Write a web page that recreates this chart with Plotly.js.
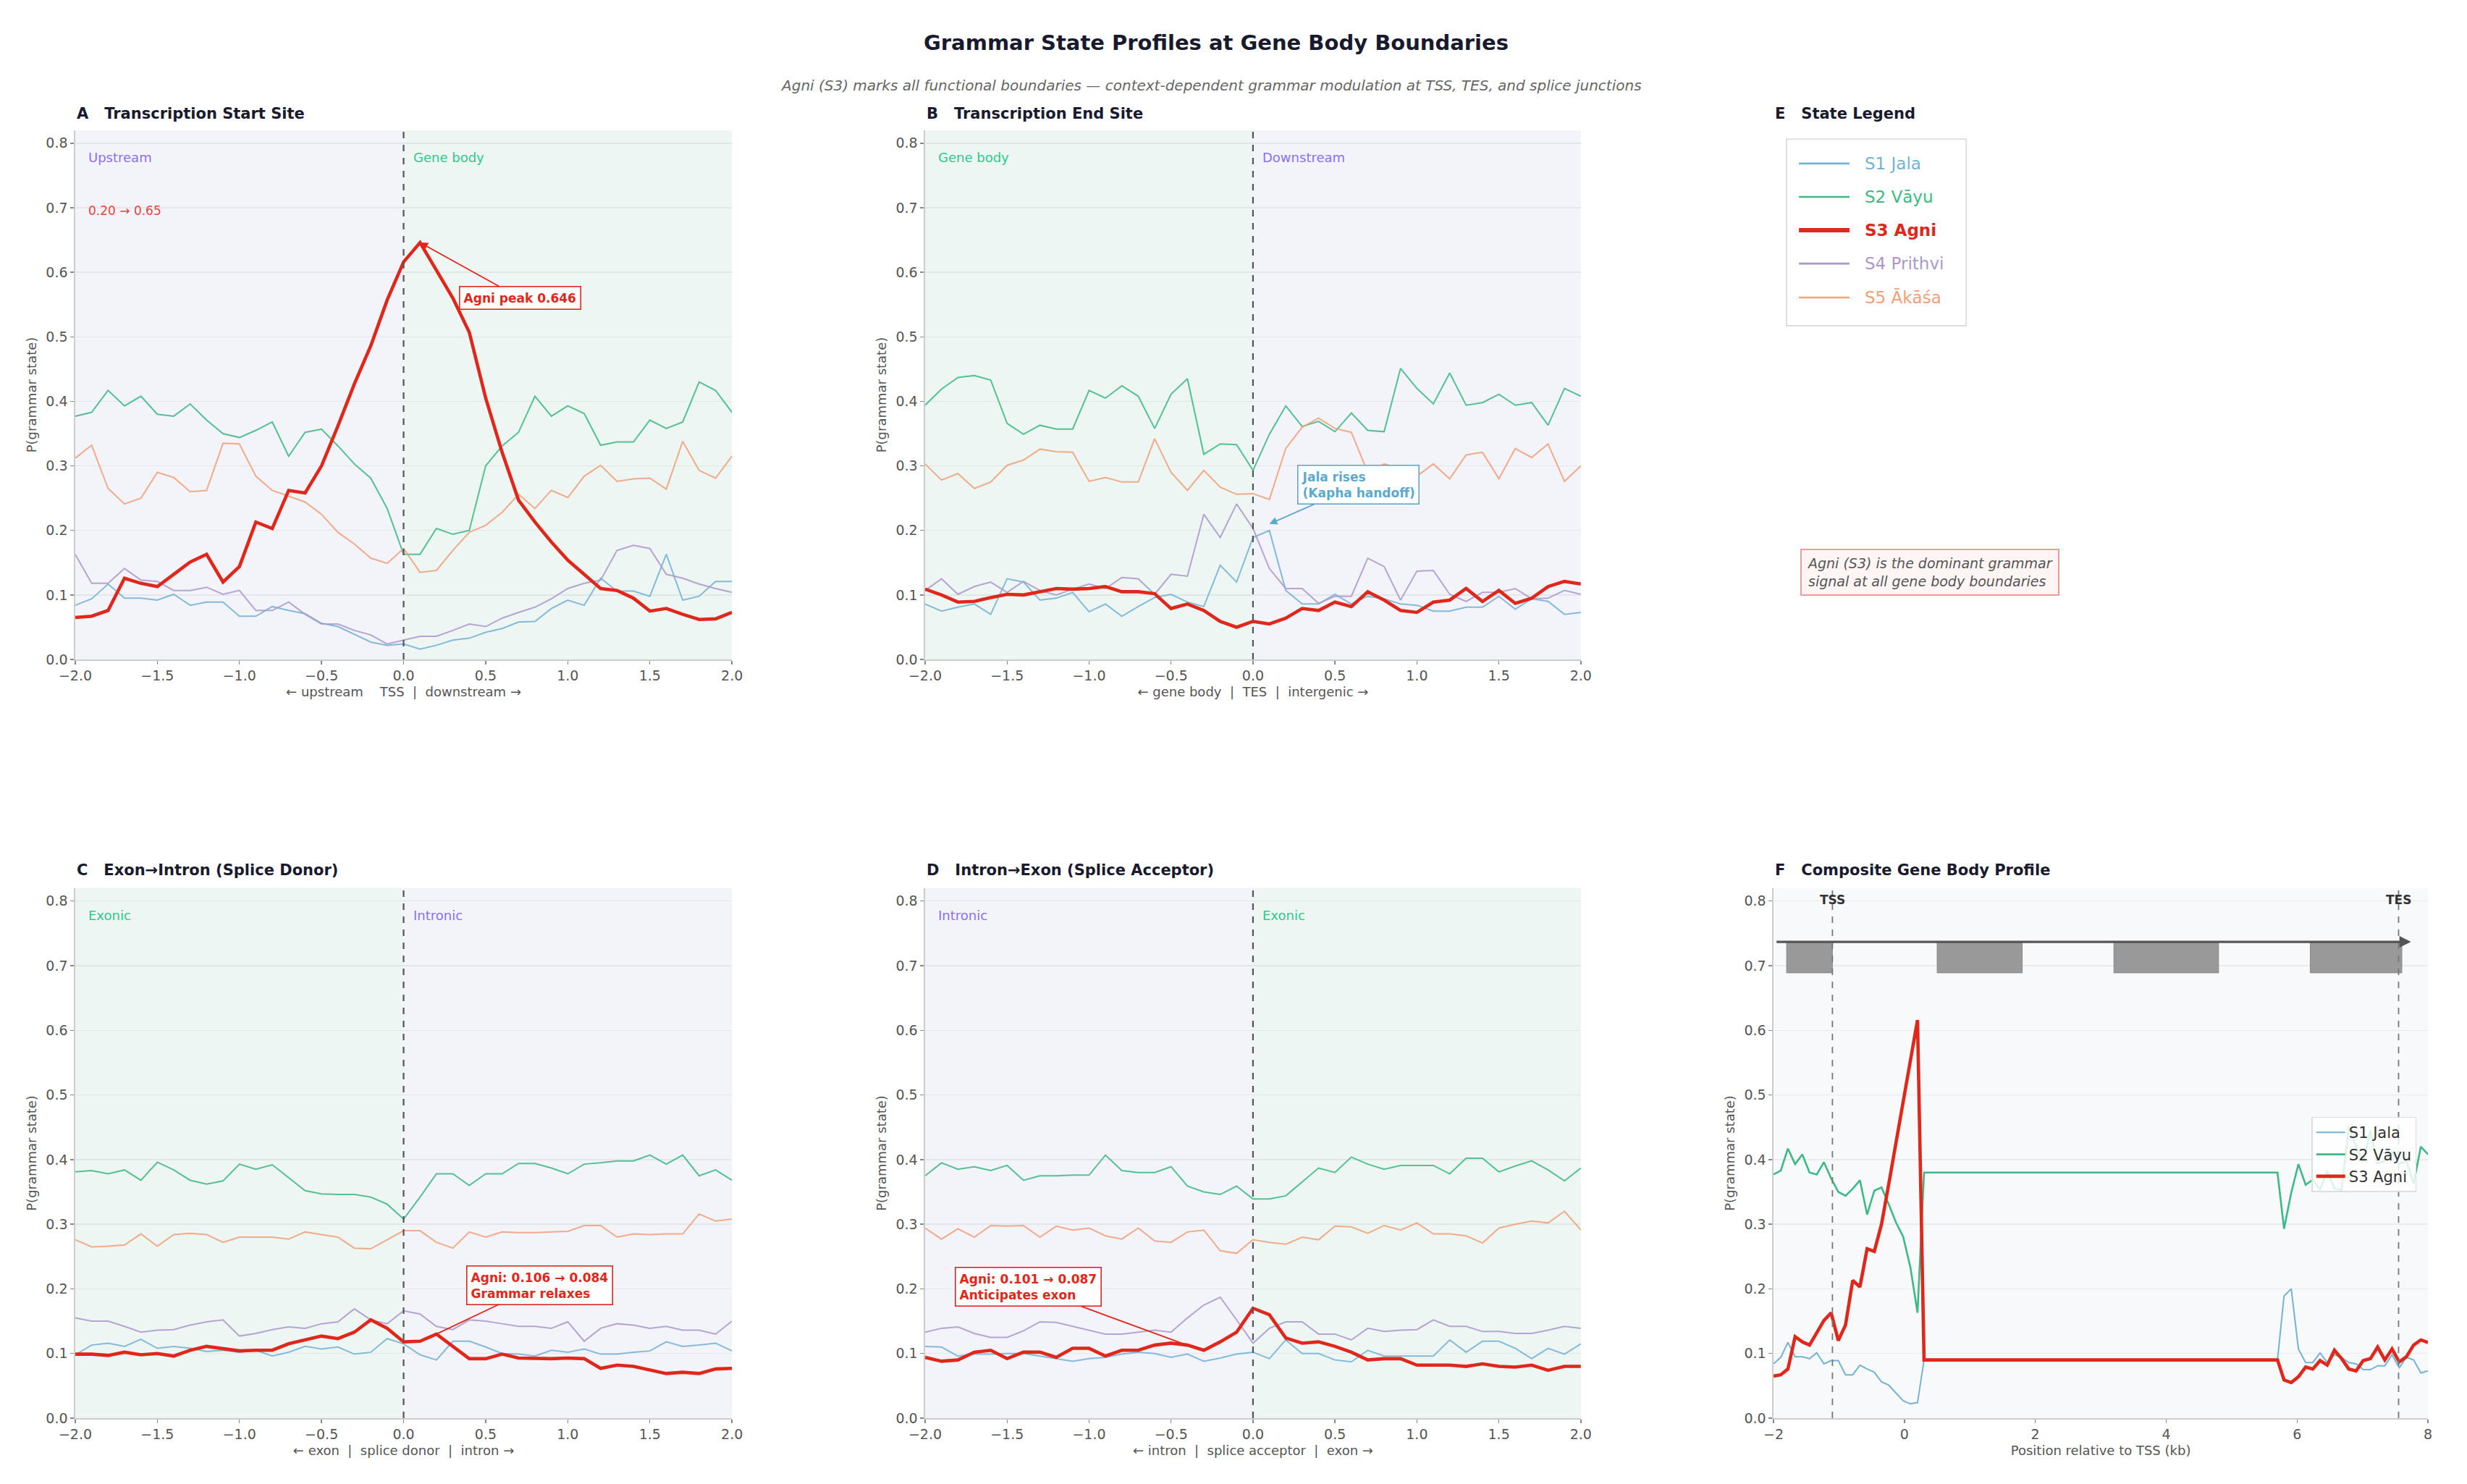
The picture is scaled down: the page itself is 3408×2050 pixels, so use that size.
<!DOCTYPE html>
<html><head><meta charset="utf-8">
<script src="https://cdn.plot.ly/plotly-3.0.1.min.js"></script>
<style>html,body{margin:0;padding:0;background:#fff}</style>
</head><body><div id="chart" style="width:3408px;height:2050px"></div>
<script>
// ---------- DATA ----------
const positions = [-2.0,-1.9,-1.8,-1.7,-1.6,-1.5,-1.4,-1.3,-1.2,-1.1,-1.0,-0.9,-0.8,-0.7,-0.6,-0.5,-0.4,-0.3,-0.2,-0.1,0.0,0.1,0.2,0.3,0.4,0.5,0.6,0.7,0.8,0.9,1.0,1.1,1.2,1.3,1.4,1.5,1.6,1.7,1.8,1.9,2.0];
const stateNames = ["S1 Jala","S2 Vāyu","S3 Agni","S4 Prithvi","S5 Ākāśa"];
const stateColors = ["#74b3d4","#3dba84","#e0271b","#ad98cc","#f0a07a"];

// A: TSS
const tssJala    = [0.084,0.094,0.117,0.095,0.095,0.092,0.101,0.084,0.089,0.089,0.067,0.067,0.082,0.076,0.071,0.056,0.051,0.039,0.027,0.022,0.024,0.016,0.022,0.030,0.033,0.042,0.048,0.058,0.059,0.079,0.092,0.084,0.126,0.106,0.106,0.098,0.163,0.092,0.098,0.121,0.121];
const tssVayu    = [0.377,0.383,0.417,0.393,0.408,0.380,0.377,0.396,0.371,0.350,0.344,0.355,0.368,0.315,0.352,0.357,0.331,0.303,0.281,0.234,0.163,0.163,0.203,0.194,0.200,0.300,0.331,0.352,0.408,0.377,0.393,0.381,0.332,0.337,0.337,0.371,0.358,0.368,0.430,0.417,0.383];
const tssAgni    = [0.065,0.067,0.076,0.126,0.118,0.113,0.132,0.151,0.163,0.120,0.144,0.213,0.203,0.262,0.258,0.300,0.362,0.427,0.486,0.557,0.616,0.646,0.603,0.560,0.507,0.405,0.321,0.247,0.213,0.182,0.154,0.132,0.110,0.107,0.095,0.075,0.079,0.070,0.062,0.063,0.073];
const tssPrithvi = [0.163,0.118,0.118,0.141,0.123,0.121,0.107,0.107,0.112,0.101,0.107,0.076,0.076,0.089,0.070,0.055,0.055,0.045,0.038,0.024,0.030,0.036,0.036,0.045,0.055,0.051,0.064,0.073,0.081,0.094,0.110,0.118,0.123,0.169,0.177,0.172,0.132,0.126,0.117,0.110,0.104];
const tssAkasa   = [0.312,0.332,0.265,0.241,0.250,0.290,0.282,0.260,0.262,0.335,0.334,0.284,0.262,0.253,0.244,0.225,0.197,0.179,0.157,0.149,0.172,0.135,0.138,0.169,0.197,0.208,0.228,0.256,0.234,0.262,0.251,0.284,0.301,0.276,0.280,0.281,0.264,0.338,0.293,0.281,0.315];

// B: TES
const tesJala    = [0.086,0.075,0.081,0.086,0.070,0.125,0.120,0.092,0.095,0.104,0.074,0.086,0.067,0.082,0.096,0.101,0.089,0.082,0.146,0.120,0.189,0.200,0.107,0.086,0.086,0.101,0.086,0.098,0.094,0.086,0.084,0.075,0.075,0.081,0.081,0.098,0.078,0.094,0.090,0.070,0.073];
const tesVayu    = [0.394,0.419,0.437,0.440,0.433,0.366,0.349,0.363,0.357,0.357,0.417,0.405,0.424,0.408,0.358,0.411,0.435,0.318,0.334,0.333,0.293,0.349,0.393,0.361,0.369,0.353,0.382,0.355,0.353,0.451,0.420,0.396,0.444,0.394,0.398,0.411,0.394,0.398,0.363,0.420,0.408];
const tesAgni    = [0.109,0.100,0.089,0.090,0.096,0.101,0.100,0.105,0.110,0.109,0.110,0.113,0.105,0.105,0.102,0.079,0.086,0.076,0.059,0.050,0.059,0.055,0.064,0.079,0.076,0.089,0.082,0.105,0.092,0.076,0.073,0.089,0.092,0.110,0.090,0.107,0.087,0.095,0.113,0.121,0.117];
const tesPrithvi = [0.107,0.125,0.101,0.113,0.120,0.104,0.121,0.107,0.100,0.109,0.117,0.110,0.127,0.125,0.101,0.132,0.129,0.225,0.189,0.241,0.203,0.141,0.110,0.110,0.087,0.098,0.098,0.157,0.144,0.092,0.137,0.138,0.101,0.090,0.104,0.104,0.110,0.094,0.095,0.107,0.101];
const tesAkasa   = [0.303,0.278,0.288,0.265,0.275,0.301,0.309,0.326,0.322,0.321,0.276,0.282,0.275,0.275,0.342,0.290,0.262,0.293,0.267,0.256,0.257,0.248,0.327,0.360,0.374,0.358,0.352,0.290,0.303,0.296,0.284,0.303,0.280,0.317,0.321,0.280,0.327,0.313,0.334,0.276,0.300];

// C: splice donor
const donorJala    = [0.098,0.113,0.116,0.111,0.122,0.108,0.111,0.108,0.103,0.105,0.102,0.105,0.096,0.102,0.111,0.107,0.110,0.099,0.102,0.123,0.115,0.098,0.090,0.119,0.119,0.110,0.100,0.099,0.096,0.105,0.102,0.107,0.099,0.099,0.102,0.104,0.118,0.111,0.113,0.116,0.104];
const donorVayu    = [0.381,0.383,0.378,0.384,0.368,0.396,0.384,0.368,0.362,0.367,0.393,0.385,0.392,0.372,0.352,0.347,0.346,0.346,0.342,0.331,0.308,0.342,0.378,0.378,0.360,0.378,0.378,0.394,0.394,0.387,0.378,0.393,0.395,0.398,0.398,0.407,0.393,0.407,0.375,0.384,0.368];
const donorAgni    = [0.099,0.099,0.097,0.102,0.098,0.100,0.096,0.105,0.111,0.107,0.104,0.105,0.105,0.115,0.121,0.127,0.123,0.133,0.152,0.139,0.118,0.119,0.130,0.111,0.092,0.092,0.099,0.093,0.092,0.092,0.093,0.092,0.077,0.082,0.080,0.074,0.069,0.071,0.069,0.076,0.077];
const donorPrithvi = [0.155,0.150,0.150,0.142,0.133,0.136,0.137,0.144,0.149,0.152,0.127,0.131,0.137,0.141,0.139,0.146,0.149,0.169,0.152,0.146,0.166,0.161,0.142,0.137,0.152,0.150,0.146,0.142,0.142,0.139,0.149,0.119,0.139,0.146,0.144,0.139,0.142,0.136,0.136,0.130,0.150];
const donorAkasa   = [0.276,0.265,0.266,0.268,0.285,0.266,0.284,0.286,0.284,0.272,0.280,0.280,0.280,0.277,0.288,0.284,0.280,0.263,0.262,0.276,0.290,0.290,0.272,0.263,0.288,0.280,0.288,0.287,0.287,0.288,0.289,0.298,0.298,0.280,0.285,0.284,0.285,0.285,0.316,0.305,0.308];

// D: splice acceptor
const accJala    = [0.111,0.110,0.096,0.099,0.099,0.100,0.100,0.096,0.092,0.088,0.092,0.094,0.099,0.102,0.100,0.094,0.099,0.088,0.093,0.099,0.102,0.092,0.121,0.100,0.100,0.090,0.087,0.105,0.096,0.096,0.096,0.096,0.121,0.102,0.119,0.119,0.108,0.092,0.108,0.099,0.115];
const accVayu    = [0.375,0.395,0.385,0.389,0.383,0.391,0.368,0.375,0.375,0.376,0.376,0.407,0.383,0.380,0.380,0.389,0.359,0.350,0.346,0.359,0.339,0.339,0.344,0.365,0.387,0.380,0.404,0.393,0.385,0.391,0.391,0.391,0.378,0.402,0.402,0.381,0.390,0.398,0.384,0.367,0.387];
const accAgni    = [0.094,0.088,0.090,0.102,0.105,0.092,0.102,0.102,0.094,0.108,0.108,0.096,0.105,0.105,0.113,0.116,0.113,0.105,0.118,0.133,0.170,0.160,0.124,0.116,0.118,0.111,0.102,0.090,0.092,0.092,0.082,0.082,0.082,0.080,0.084,0.080,0.079,0.082,0.074,0.080,0.080];
const accPrithvi = [0.133,0.139,0.141,0.131,0.125,0.125,0.135,0.149,0.148,0.142,0.136,0.130,0.130,0.133,0.136,0.133,0.155,0.175,0.187,0.152,0.116,0.139,0.149,0.149,0.130,0.130,0.121,0.139,0.134,0.136,0.137,0.152,0.142,0.142,0.134,0.134,0.131,0.131,0.136,0.142,0.139];
const accAkasa   = [0.294,0.277,0.293,0.280,0.298,0.297,0.298,0.280,0.297,0.291,0.294,0.282,0.277,0.294,0.274,0.272,0.288,0.291,0.259,0.255,0.276,0.272,0.269,0.280,0.276,0.297,0.296,0.286,0.298,0.291,0.302,0.285,0.285,0.282,0.271,0.294,0.300,0.305,0.302,0.320,0.291];

// F: composite gene body profile
const compX    = [-2.0,-1.89,-1.78,-1.67,-1.56,-1.45,-1.34,-1.23,-1.12,-1.01,-0.9,-0.79,-0.68,-0.57,-0.46,-0.35,-0.24,-0.13,-0.02,0.09,0.2,0.3,5.7,5.8,5.91,6.02,6.13,6.24,6.35,6.46,6.57,6.68,6.79,6.9,7.01,7.12,7.23,7.34,7.45,7.56,7.67,7.78,7.89,8.0];
const compJala = [0.084,0.094,0.117,0.095,0.095,0.092,0.101,0.084,0.089,0.089,0.067,0.067,0.082,0.076,0.071,0.056,0.051,0.039,0.027,0.022,0.024,0.090,0.090,0.189,0.200,0.107,0.086,0.086,0.101,0.086,0.098,0.094,0.086,0.084,0.075,0.075,0.081,0.081,0.098,0.078,0.094,0.090,0.070,0.073];
const compVayu = [0.377,0.383,0.417,0.393,0.408,0.380,0.377,0.396,0.371,0.350,0.344,0.355,0.368,0.315,0.352,0.357,0.331,0.303,0.281,0.234,0.163,0.380,0.380,0.293,0.349,0.393,0.361,0.369,0.353,0.382,0.355,0.353,0.451,0.420,0.396,0.444,0.394,0.398,0.411,0.394,0.398,0.363,0.420,0.408];
const compAgni = [0.065,0.067,0.076,0.126,0.118,0.113,0.132,0.151,0.163,0.120,0.144,0.213,0.203,0.262,0.258,0.300,0.362,0.427,0.486,0.557,0.616,0.090,0.090,0.059,0.055,0.064,0.079,0.076,0.089,0.082,0.105,0.092,0.076,0.073,0.089,0.092,0.110,0.090,0.107,0.087,0.095,0.113,0.121,0.117];
const compMarks = ["TSS","TES"];
const compMarkX = [-1.1, 7.55];
const exonStart = [-1.8, 0.5, 3.2, 6.2];
const exonEnd   = [-1.1, 1.8, 4.8, 7.6];

// ---------- STYLE ----------
const FONT = "DejaVu Sans, Liberation Sans, sans-serif";
const PURPLE_BG = "#f3f3fa", GREEN_BG = "#eef6f3";
const PURPLE_TX = "#8c70f2", GREEN_TX = "#2ec98c";
const AGNI = stateColors[2], JALA = stateColors[0];

const panels = [
  {ax:"", sets:[tssJala,tssVayu,tssAgni,tssPrithvi,tssAkasa], regions:[["Upstream",PURPLE_BG,PURPLE_TX],["Gene body",GREEN_BG,GREEN_TX]],
   title:"A   Transcription Start Site", xtitle:"← upstream    TSS  |  downstream →"},
  {ax:"2", sets:[tesJala,tesVayu,tesAgni,tesPrithvi,tesAkasa], regions:[["Gene body",GREEN_BG,GREEN_TX],["Downstream",PURPLE_BG,PURPLE_TX]],
   title:"B   Transcription End Site", xtitle:"← gene body  |  TES  |  intergenic →"},
  {ax:"3", sets:[donorJala,donorVayu,donorAgni,donorPrithvi,donorAkasa], regions:[["Exonic",GREEN_BG,GREEN_TX],["Intronic",PURPLE_BG,PURPLE_TX]],
   title:"C   Exon→Intron (Splice Donor)", xtitle:"← exon  |  splice donor  |  intron →"},
  {ax:"4", sets:[accJala,accVayu,accAgni,accPrithvi,accAkasa], regions:[["Intronic",PURPLE_BG,PURPLE_TX],["Exonic",GREEN_BG,GREEN_TX]],
   title:"D   Intron→Exon (Splice Acceptor)", xtitle:"← intron  |  splice acceptor  |  exon →"}
];

const colX = [[0.0305,0.2967],[0.375,0.6408],[0.7189,0.9842]];
const rowY = [[0.5556,0.9122],[0.0444,0.4015]];
const domains = [[colX[0],rowY[0]],[colX[1],rowY[0]],[colX[0],rowY[1]],[colX[1],rowY[1]]];

const traces = [], shapes = [], annotations = [];
const drawOrder = [0,1,3,4,2];

panels.forEach((p, pi) => {
  const xa = "x"+p.ax, ya = "y"+p.ax;
  drawOrder.forEach(si => {
    traces.push({
      type:"scatter", mode:"lines", x:positions, y:p.sets[si], xaxis:xa, yaxis:ya,
      name:stateNames[si], showlegend:false, hoverinfo:"skip",
      opacity: si===2 ? 1 : 0.88,
      line:{color:stateColors[si], width: si===2 ? 4.6 : 2}
    });
  });
  [[-2,0],[0,2]].forEach((r, ri) => {
    shapes.push({type:"rect", xref:xa, yref:ya+" domain", x0:r[0], x1:r[1], y0:0, y1:1,
      fillcolor:p.regions[ri][1], line:{width:0}, layer:"below"});
    annotations.push({xref:xa, yref:ya, x: ri===0 ? -1.93 : 0.05, y:0.778, text:p.regions[ri][0],
      showarrow:false, xanchor:"left", yanchor:"middle", font:{family:FONT, size:18, color:p.regions[ri][2]}});
  });
  shapes.push({type:"line", xref:xa, yref:ya+" domain", x0:0, x1:0, y0:0, y1:1,
    line:{color:"#555555", width:2.2, dash:"dash"}});
  annotations.push({xref:"paper", yref:"paper", x:domains[pi][0][0], y: pi<2 ? 0.9234 : 0.4137,
    text:"<b>"+p.title+"</b>", showarrow:false, xanchor:"left", yanchor:"middle",
    font:{family:FONT, size:21, color:"#1a1a2e"}});
});

// F composite
[[compJala,0,2],[compVayu,1,2.6],[compAgni,2,4.6]].forEach(t => {
  traces.push({type:"scatter", mode:"lines", x:compX, y:t[0], xaxis:"x5", yaxis:"y5",
    name:stateNames[t[1]], showlegend:true, hoverinfo:"skip",
    line:{color:stateColors[t[1]], width:t[2]}});
});
exonStart.forEach((s,i) => {
  shapes.push({type:"rect", xref:"x5", yref:"y5", x0:s, x1:exonEnd[i], y0:0.689, y1:0.737,
    fillcolor:"#999999", line:{color:"#8a8a8a", width:1}, layer:"above"});
});
compMarkX.forEach((mx,i) => {
  shapes.push({type:"line", xref:"x5", yref:"y5 domain", x0:mx, x1:mx, y0:0, y1:1,
    line:{color:"#777777", width:1.8, dash:"dash"}});
  annotations.push({xref:"x5", yref:"y5", x:mx, y:0.802, text:"<b>"+compMarks[i]+"</b>", showarrow:false,
    xanchor:"center", yanchor:"middle", font:{family:FONT, size:17, color:"#333333"}});
});
annotations.push({xref:"x5", yref:"y5", axref:"x5", ayref:"y5", x:7.74, y:0.737, ax:-1.97, ay:0.737,
  text:"", showarrow:true, arrowhead:2, arrowsize:1, arrowwidth:3.2, arrowcolor:"#555555", standoff:0, startstandoff:0});
annotations.push({xref:"paper", yref:"paper", x:colX[2][0], y:0.4137, text:"<b>F   Composite Gene Body Profile</b>",
  showarrow:false, xanchor:"left", yanchor:"middle", font:{family:FONT, size:21, color:"#1a1a2e"}});

// Callouts
function callout(xa, ya, x, y, ax, ay, text, color, head) {
  annotations.push({xref:xa, yref:ya, axref:xa, ayref:ya, x:x, y:y, ax:ax, ay:ay, text:"<b>"+text+"</b>",
    showarrow:true, arrowhead:head, arrowsize:1.2, arrowwidth:1.8, arrowcolor:color, align:"left",
    bgcolor:"#ffffff", bordercolor:color, borderwidth:1.6, borderpad:5,
    font:{family:FONT, size:17, color:color}});
}
callout("x","y", 0.1, 0.646, 0.71, 0.56, "Agni peak 0.646", AGNI, 2);
callout("x2","y2", 0.1, 0.21, 0.645, 0.271, "Jala rises<br>(Kapha handoff)", "#5ba9cf", 2);
callout("x3","y3", 0.2, 0.13, 0.83, 0.206, "Agni: 0.106 → 0.084<br>Grammar relaxes", AGNI, 0);
callout("x4","y4", -0.34, 0.107, -1.37, 0.203, "Agni: 0.101 → 0.087<br>Anticipates exon", AGNI, 0);
annotations.push({xref:"x", yref:"y", x:-1.93, y:0.696, text:"0.20 → 0.65", showarrow:false, xanchor:"left",
  yanchor:"middle", font:{family:FONT, size:17, color:"#e8463a"}});

// Figure titles
annotations.push({xref:"paper", yref:"paper", x:0.493, y:0.971, text:"<b>Grammar State Profiles at Gene Body Boundaries</b>",
  showarrow:false, xanchor:"center", yanchor:"middle", font:{family:FONT, size:29, color:"#1a1a2e"}});
annotations.push({xref:"paper", yref:"paper", x:0.491, y:0.9425,
  text:"<i>Agni (S3) marks all functional boundaries — context-dependent grammar modulation at TSS, TES, and splice junctions</i>",
  showarrow:false, xanchor:"center", yanchor:"middle", font:{family:FONT, size:20, color:"#666666"}});

// E: state legend panel
annotations.push({xref:"paper", yref:"paper", x:colX[2][0], y:0.9234, text:"<b>E   State Legend</b>",
  showarrow:false, xanchor:"left", yanchor:"middle", font:{family:FONT, size:21, color:"#1a1a2e"}});
shapes.push({type:"rect", xref:"paper", yref:"paper", x0:0.7242, x1:0.7970, y0:0.7805, y1:0.9063,
  fillcolor:"#ffffff", line:{color:"#dddddd", width:1.8}});
const legY = [0.8898,0.8673,0.8449,0.8224,0.7995];
stateNames.forEach((n,i) => {
  shapes.push({type:"line", xref:"paper", yref:"paper", x0:0.7292, x1:0.7497, y0:legY[i], y1:legY[i],
    line:{color:stateColors[i], width: i===2 ? 6 : 2.6}});
  annotations.push({xref:"paper", yref:"paper", x:0.7553, y:legY[i], text: i===2 ? "<b>"+n+"</b>" : n,
    showarrow:false, xanchor:"left", yanchor:"middle", font:{family:FONT, size:23, color:stateColors[i]}});
});
annotations.push({xref:"paper", yref:"paper", x:0.7297, y:0.6146,
  text:"<i>Agni (S3) is the dominant grammar<br>signal at all gene body boundaries</i>",
  showarrow:false, xanchor:"left", yanchor:"middle", align:"left", bgcolor:"#fff5f5", bordercolor:"#f19a9a",
  borderwidth:2, borderpad:7, font:{family:FONT, size:19, color:"#555555"}});

// ---------- AXES ----------
function xaxisDef(dom, anchor, title, isF) {
  return {domain:dom, anchor:anchor, range: isF ? [-2,8] : [-2,2], dtick: isF ? 2 : 0.5, tick0:0,
    tickformat: isF ? "d" : ".1f", showgrid:false, zeroline:false, showline:true, linecolor:"#cccccc", linewidth:1.6,
    ticks:"outside", ticklen:5, tickwidth:1.4, tickcolor:"#888888",
    tickfont:{family:FONT, size:19, color:"#555555"},
    title:{text:title, font:{family:FONT, size:18, color:"#555555"}, standoff:6}, automargin:false, fixedrange:true};
}
function yaxisDef(dom, anchor) {
  return {domain:dom, anchor:anchor, range:[0,0.82], dtick:0.1, tick0:0, tickformat:".1f",
    showgrid:true, gridcolor:"rgba(0,0,0,0.055)", gridwidth:1.4, zeroline:false, showline:true, linecolor:"#cccccc",
    linewidth:1.6, ticks:"outside", ticklen:5, tickwidth:1.4, tickcolor:"#888888",
    tickfont:{family:FONT, size:19, color:"#555555"},
    title:{text:"P(grammar state)", font:{family:FONT, size:18, color:"#555555"}, standoff:8}, automargin:false, fixedrange:true};
}

const layout = {
  width:3408, height:2050, margin:{l:0,r:0,t:0,b:0}, paper_bgcolor:"#ffffff", plot_bgcolor:"#f8f9fb",
  font:{family:FONT}, shapes:shapes, annotations:annotations,
  xaxis:  xaxisDef(domains[0][0], "y",  panels[0].xtitle, false),
  yaxis:  yaxisDef(domains[0][1], "x"),
  xaxis2: xaxisDef(domains[1][0], "y2", panels[1].xtitle, false),
  yaxis2: yaxisDef(domains[1][1], "x2"),
  xaxis3: xaxisDef(domains[2][0], "y3", panels[2].xtitle, false),
  yaxis3: yaxisDef(domains[2][1], "x3"),
  xaxis4: xaxisDef(domains[3][0], "y4", panels[3].xtitle, false),
  yaxis4: yaxisDef(domains[3][1], "x4"),
  xaxis5: xaxisDef(colX[2], "y5", "Position relative to TSS (kb)", true),
  yaxis5: yaxisDef(rowY[1], "x5"),
  showlegend:true,
  legend:{x:0.937, y:0.2475, xanchor:"left", yanchor:"top", bgcolor:"rgba(255,255,255,0.82)",
    bordercolor:"#dddddd", borderwidth:1.5, itemwidth:40, font:{family:FONT, size:21, color:"#333333"}}
};

Plotly.newPlot("chart", traces, layout, {displayModeBar:false, staticPlot:true});
</script></body></html>
